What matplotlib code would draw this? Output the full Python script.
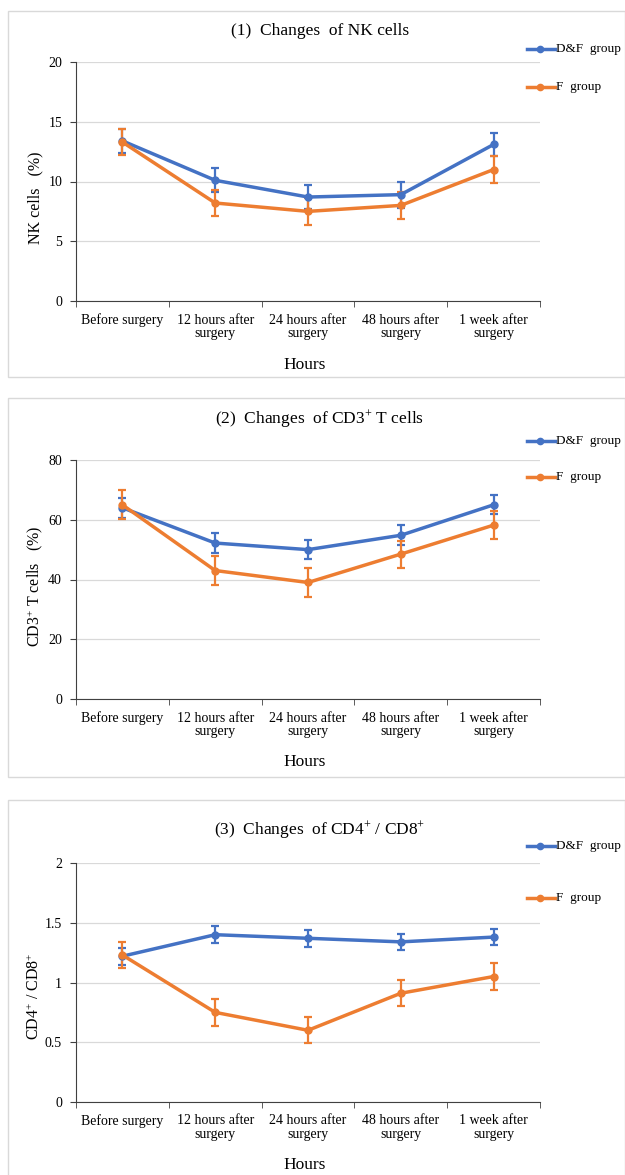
import matplotlib
matplotlib.use("Agg")
import matplotlib.pyplot as plt
import numpy as np
from matplotlib.patches import Rectangle
from matplotlib.lines import Line2D

plt.rcParams['font.family'] = ['Liberation Serif', 'DejaVu Serif']
plt.rcParams['mathtext.fontset'] = 'custom'
plt.rcParams['mathtext.rm'] = 'Liberation Serif'
plt.rcParams['mathtext.it'] = 'Liberation Serif:italic'

categories = ["Before surgery", "12 hours after\nsurgery", "24 hours after\nsurgery",
              "48 hours after\nsurgery", "1 week after\nsurgery"]
series_names = ["D&F  group", "F  group"]

nk_df = [13.4, 10.1, 8.7, 8.9, 13.1]
nk_df_err = [1.0, 1.0, 1.0, 1.1, 1.0]
nk_f = [13.3, 8.2, 7.5, 8.0, 11.0]
nk_f_err = [1.1, 1.1, 1.1, 1.1, 1.1]

cd3_df = [64.0, 52.2, 50.0, 54.8, 65.0]
cd3_df_err = [3.3, 3.2, 3.2, 3.3, 3.2]
cd3_f = [65.0, 43.0, 39.0, 48.5, 58.2]
cd3_f_err = [4.8, 4.8, 4.8, 4.5, 4.6]

cd48_df = [1.22, 1.40, 1.37, 1.34, 1.38]
cd48_df_err = [0.07, 0.07, 0.07, 0.07, 0.07]
cd48_f = [1.23, 0.75, 0.60, 0.91, 1.05]
cd48_f_err = [0.11, 0.11, 0.11, 0.11, 0.11]

panels = [
    dict(title="(1)  Changes  of NK cells", ylabel="NK cells   (%)",
         df=nk_df, dfe=nk_df_err, f=nk_f, fe=nk_f_err, ymax=20, step=5,
         frame=(8, 11, 625, 377), ax=(62, 301), title_y=31, xl_y=365, leg=(49, 87),
         yl_y=198),
    dict(title="(2)  Changes  of CD3$^{+}$ T cells", ylabel="CD3$^{+}$ T cells   (%)",
         df=cd3_df, dfe=cd3_df_err, f=cd3_f, fe=cd3_f_err, ymax=80, step=20,
         frame=(8, 398, 625, 777), ax=(460, 699), title_y=419, xl_y=762, leg=(441, 477),
         yl_y=586),
    dict(title="(3)  Changes  of CD4$^{+}$ / CD8$^{+}$", ylabel="CD4$^{+}$ / CD8$^{+}$",
         df=cd48_df, dfe=cd48_df_err, f=cd48_f, fe=cd48_f_err, ymax=2, step=0.5,
         frame=(8, 800, 625, 1180), ax=(863, 1102), title_y=830, xl_y=1165, leg=(846, 898),
         yl_y=996),
]

W, H = 625, 1175
fig = plt.figure(figsize=(W / 100, H / 100), dpi=100)
fig.patch.set_facecolor('white')

blue = '#4472C4'
orange = '#ED7D31'

def fx(px):
    return px / W

def fy(py):
    return 1 - py / H

x = np.arange(len(categories))
for p in panels:
    x0, y0, x1, y1 = p['frame']
    fig.add_artist(Rectangle((fx(x0), fy(y1)), fx(x1 - x0), (y1 - y0) / H,
                             transform=fig.transFigure, fill=False,
                             edgecolor='#d9d9d9', linewidth=1.0))
    top, bot = p['ax']
    ax = fig.add_axes([fx(76), fy(bot), fx(540 - 76), (bot - top) / H])
    ax.set_xlim(-0.5, len(categories) - 0.5)
    ax.set_ylim(0, p['ymax'])
    yt = np.arange(0, p['ymax'] + p['step'] / 2, p['step'])
    ax.set_yticks(yt)
    ax.set_yticklabels(["{:g}".format(v) for v in yt], fontsize=10)
    ax.yaxis.grid(True, color='#d9d9d9', linewidth=0.9)
    ax.set_axisbelow(True)
    for s in ['top', 'right']:
        ax.spines[s].set_visible(False)
    ax.spines['left'].set_color('#404040')
    ax.spines['bottom'].set_color('#404040')
    ax.set_xticks(x)
    ax.set_xticklabels(categories, fontsize=10, linespacing=1.05)
    ax.tick_params(axis='x', length=0, pad=9)
    ax.set_xticks(np.arange(-0.5, len(categories), 1.0), minor=True)
    ax.tick_params(axis='x', which='minor', length=4, color='#404040')
    ax.tick_params(axis='y', length=4, color='#404040', pad=6)
    ax.errorbar(x, p['df'], yerr=p['dfe'], color=blue, lw=2.5, marker='o', ms=5,
                capsize=3, elinewidth=1.6, capthick=1.6, zorder=3)
    ax.errorbar(x, p['f'], yerr=p['fe'], color=orange, lw=2.5, marker='o', ms=5,
                capsize=3, elinewidth=1.6, capthick=1.6, zorder=3)
    fig.text(fx(320), fy(p['title_y']), p['title'], ha='center', va='center', fontsize=12.5)
    fig.text(fx(305), fy(p['xl_y']), "Hours", ha='center', va='center', fontsize=12.5)
    fig.text(fx(35), fy(p['yl_y']), p['ylabel'], ha='center', va='center',
             rotation=90, fontsize=11.5)
    for name, col, ly in zip(series_names, [blue, orange], p['leg']):
        fig.add_artist(Line2D([fx(527), fx(555)], [fy(ly), fy(ly)], color=col, lw=2.5,
                              transform=fig.transFigure))
        fig.add_artist(Line2D([fx(540)], [fy(ly)], color=col, marker='o', ms=4.5,
                              transform=fig.transFigure))
        fig.text(fx(556), fy(ly), name, ha='left', va='center', fontsize=9.5)

fig.savefig("out.png", dpi=100, facecolor='white')
